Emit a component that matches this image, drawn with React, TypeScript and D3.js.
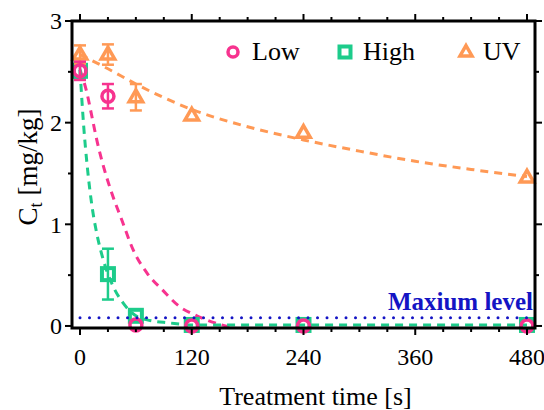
import React from "react";
import * as d3 from "d3";

// measured points
const times = [0, 30, 60, 120, 240, 480];
const lowValues = [2.51, 2.26, 0.01, 0.0, 0.0, 0.0];
const lowErrors = [0.09, 0.12, 0, 0, 0, 0];
const highValues = [2.51, 0.51, 0.1, 0.01, 0.01, 0.01];
const highErrors = [0.08, 0.25, 0, 0, 0, 0];
const uvValues = [2.67, 2.67, 2.25, 2.07, 1.9, 1.46];
const uvErrors = [0.09, 0.1, 0.13, 0, 0, 0];

// fitted curves
const lowFitT = [0, 7.5, 13, 18, 25.5, 34, 45, 57, 72, 89, 107, 123, 145, 171];
const lowFitC = [2.52, 2.29, 2.05, 1.83, 1.56, 1.31, 1.04, 0.75, 0.52, 0.35, 0.19, 0.11, 0.03, -0.03];
const highFitT = [0, 4, 8, 13, 18, 25, 35, 46, 60, 72, 96, 120, 240, 480];
const highFitC = [2.52, 1.96, 1.55, 1.17, 0.91, 0.65, 0.4, 0.23, 0.1, 0.06, 0.03, 0.01, 0.01, 0.01];
const uvFitT = [0, 30, 60, 120, 180, 240, 300, 360, 420, 480];
const uvFitC = [2.67, 2.53, 2.38, 2.13, 1.96, 1.83, 1.72, 1.62, 1.54, 1.47];

const maxLevel = 0.08;
const xTicks = [0, 120, 240, 360, 480];
const xMinorTicks = d3.range(0, 481, 30);
const yTicks = [0, 1, 2, 3];
const yMinorTicks = d3.range(0, 3.01, 0.5);

const PINK = "#f7338f";
const GREEN = "#1dcc8b";
const ORANGE = "#ff9955";
const BLUE = "#1414c4";
const serif = { fontFamily: "Liberation Serif" };

const W = 544, H = 410;
const left = 72, right = 535, top = 21, bottom = 328;

const x = d3.scaleLinear().domain([-8.6, 488.6]).range([left, right]);
const y = d3.scaleLinear().domain([-0.02, 3]).range([bottom, top]);

const line = d3.line<[number, number]>()
  .x(d => x(d[0]))
  .y(d => y(d[1]))
  .curve(d3.curveMonotoneX);

const zip = (a: number[], b: number[]) => a.map((v, i) => [v, b[i]] as [number, number]);

function Circle({ cx, cy, r = 6 }: { cx: number; cy: number; r?: number }) {
  return <circle cx={cx} cy={cy} r={r} fill="none" stroke={PINK} strokeWidth={3.5} />;
}
function Square({ cx, cy, s = 12 }: { cx: number; cy: number; s?: number }) {
  return <rect x={cx - s / 2} y={cy - s / 2} width={s} height={s} fill="none" stroke={GREEN} strokeWidth={4} />;
}
function Triangle({ cx, cy, s = 13.5 }: { cx: number; cy: number; s?: number }) {
  const h = s * Math.sqrt(3) / 2;
  const p = `M${cx},${cy - h * 0.62}L${cx + s / 2},${cy + h * 0.38}L${cx - s / 2},${cy + h * 0.38}Z`;
  return <path d={p} fill="none" stroke={ORANGE} strokeWidth={3.5} strokeLinejoin="miter" />;
}

function ErrorBar({ t, v, e, color }: { t: number; v: number; e: number; color: string }) {
  if (!e) return null;
  const cx = x(t);
  return (
    <g stroke={color} strokeWidth={2.5}>
      <line x1={cx} x2={cx} y1={y(v + e)} y2={y(v - e)} />
      <line x1={cx - 6} x2={cx + 6} y1={y(v + e)} y2={y(v + e)} />
      <line x1={cx - 6} x2={cx + 6} y1={y(v - e)} y2={y(v - e)} />
    </g>
  );
}

export default function App() {
  return (
    <svg width={W} height={H} style={{ position: "absolute", left: 0, top: 0, background: "#fff" }}>
      <defs>
        <clipPath id="plot">
          <rect x={left} y={top} width={right - left} height={bottom - top} />
        </clipPath>
      </defs>

      <g clipPath="url(#plot)" fill="none" strokeWidth={3}>
        <path d={line(zip(uvFitT, uvFitC)) || ""} stroke={ORANGE} strokeDasharray="8 6" />
        <path d={line(zip(lowFitT, lowFitC)) || ""} stroke={PINK} strokeDasharray="8 6" />
        <path d={line(zip(highFitT, highFitC)) || ""} stroke={GREEN} strokeDasharray="8 6" />
      </g>

      {times.map((t, i) => (
        <g key={"h" + t}>
          <ErrorBar t={t} v={highValues[i]} e={highErrors[i]} color={GREEN} />
          <Square cx={x(t)} cy={y(highValues[i])} />
        </g>
      ))}
      {times.map((t, i) => (
        <g key={"u" + t}>
          <ErrorBar t={t} v={uvValues[i]} e={uvErrors[i]} color={ORANGE} />
          <Triangle cx={x(t)} cy={y(uvValues[i])} />
        </g>
      ))}
      {times.map((t, i) => (
        <g key={"l" + t}>
          <ErrorBar t={t} v={lowValues[i]} e={lowErrors[i]} color={PINK} />
          <Circle cx={x(t)} cy={y(lowValues[i])} />
        </g>
      ))}

      <line x1={x(0)} x2={right - 2} y1={y(maxLevel)} y2={y(maxLevel)} stroke={BLUE}
        strokeWidth={3} strokeLinecap="round" strokeDasharray="0 9.5" />
      <text x={533} y={310} textAnchor="end" fill={BLUE} fontWeight="bold" fontSize={25} style={serif}>Maxium level</text>

      {/* frame */}
      <rect x={left} y={top} width={right - left} height={bottom - top} fill="none" stroke="#000" strokeWidth={3} />

      {/* ticks */}
      <g stroke="#000" strokeWidth={2}>
        {xMinorTicks.map(t => {
          const major = t % 120 === 0;
          const len = major ? 7 : 4;
          return (
            <g key={"xt" + t}>
              <line x1={x(t)} x2={x(t)} y1={bottom} y2={bottom + len} />
              <line x1={x(t)} x2={x(t)} y1={top} y2={top - len} />
            </g>
          );
        })}
        {yMinorTicks.map(v => {
          const major = Math.abs(v - Math.round(v)) < 1e-6;
          const len = major ? 7 : 4;
          return (
            <g key={"yt" + v}>
              <line x1={left} x2={left - len} y1={y(v)} y2={y(v)} />
              <line x1={right} x2={right + len} y1={y(v)} y2={y(v)} />
            </g>
          );
        })}
      </g>
      {xTicks.map(t => (
        <text key={"xl" + t} x={x(t)} y={365} textAnchor="middle" fontSize={24} style={serif}>{t}</text>
      ))}
      {yTicks.map(v => (
        <text key={"yl" + v} x={62} y={y(v)} dy="0.35em" textAnchor="end" fontSize={24} style={serif}>{v}</text>
      ))}

      <text x={(left + right) / 2 + 12} y={405} textAnchor="middle" fontSize={26} style={serif}>Treatment time [s]</text>
      <text transform={`translate(37,167) rotate(-90)`} textAnchor="middle" fontSize={27} style={serif}>
        C<tspan fontSize={18} dy={5}>t</tspan><tspan dy={-5}> [mg/kg]</tspan>
      </text>

      {/* legend */}
      <Circle cx={233} cy={52} r={5} />
      <text x={252} y={60} fontSize={26} style={serif}>Low</text>
      <Square cx={345} cy={52} s={11} />
      <text x={363} y={60} fontSize={26} style={serif}>High</text>
      <Triangle cx={466} cy={52} s={12} />
      <text x={483} y={60} fontSize={26} style={serif}>UV</text>
    </svg>
  );
}
